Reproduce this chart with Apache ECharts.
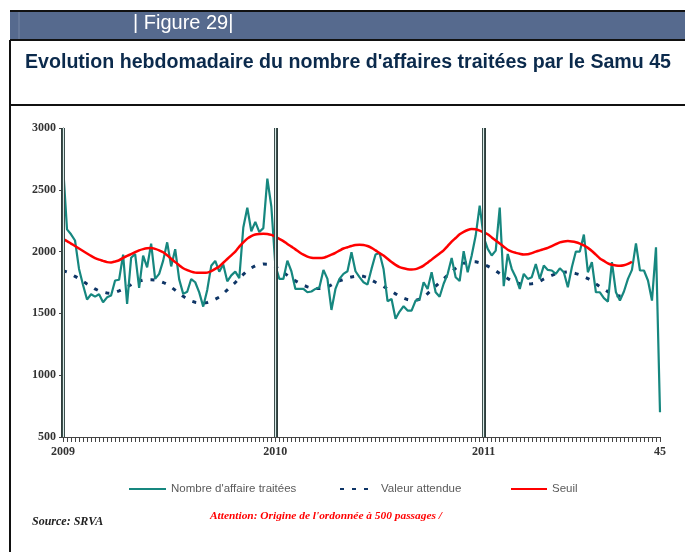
<!DOCTYPE html>
<html>
<head>
<meta charset="utf-8">
<script src="https://cdn.jsdelivr.net/npm/echarts@6/dist/echarts.min.js"></script>
<style>
  html, body { margin: 0; padding: 0; background: #fff; }
  #chart { width: 685px; height: 552px; }
</style>
</head>
<body>
<div id="chart"></div>
<script>
// semaines : 53 en 2009, 52 en 2010, 45 en 2011
const years = ['2009', '2010', '2011']
const weeksInYear = [53, 52, 45]
const lastLabel = '45'

// Nombre d'affaire traitées (hebdo)
const affaires = [
  2700, 2180, 2140, 2090, 1860, 1730, 1612, 1655, 1636, 1655,
  1590, 1630, 1645, 1766, 1772, 1976, 1577, 1950, 1981, 1706,
  1968, 1873, 2065, 1779, 1820, 1927, 2075, 1880, 2020, 1775,
  1658, 1675, 1778, 1752, 1670, 1555, 1690, 1885, 1925, 1838,
  1895, 1760, 1808, 1838, 1785, 2195, 2355, 2165, 2240, 2158,
  2190, 2590, 2365, 1887, 1779, 1779, 1927, 1841, 1698, 1698,
  1698, 1671, 1677, 1698, 1712, 1852, 1779, 1528, 1698, 1779,
  1820, 1841, 1995, 1841, 1793, 1752, 1733, 1860, 1976, 1989,
  1860, 1599, 1617, 1456, 1515, 1558, 1523, 1523, 1604, 1612,
  1752, 1698, 1833, 1671, 1635, 1740, 1818, 1949, 1793, 1762,
  2003, 1833, 1968, 2130, 2372, 2116, 2022, 1968, 2008, 2356,
  1720, 1981, 1860, 1793, 1698, 1820, 1779, 1793, 1900, 1779,
  1887, 1852, 1847, 1820, 1865, 1833, 1712, 1873, 2000, 2000,
  2138, 1833, 1914, 1671, 1671, 1623, 1596, 1914, 1671, 1604,
  1677, 1779, 1852, 2067, 1847, 1847, 1766, 1604, 2035, 700
]

// Valeur attendue
const attendue = [
  1845, 1835, 1818, 1800, 1782, 1760, 1738, 1718, 1698, 1682,
  1672, 1665, 1663, 1670, 1683, 1698, 1715, 1732, 1750, 1762,
  1770, 1773, 1773, 1770, 1762, 1750, 1735, 1712, 1688, 1662,
  1638, 1618, 1600, 1590, 1585, 1584, 1588, 1600, 1615, 1632,
  1660, 1690, 1720, 1750, 1785, 1815, 1845, 1868, 1885, 1895,
  1900, 1898, 1890, 1875, 1858, 1832, 1808, 1785, 1763, 1745,
  1728, 1715, 1706, 1701, 1702, 1707, 1715, 1730, 1748, 1763,
  1775, 1787, 1795, 1800, 1803, 1800, 1790, 1770, 1752, 1735,
  1718, 1698, 1678, 1658, 1640, 1624, 1612, 1606, 1606, 1614,
  1632, 1660, 1690, 1720, 1750, 1780, 1808, 1838, 1865, 1888,
  1905, 1916, 1920, 1918, 1910, 1898, 1882, 1865, 1845, 1822,
  1802, 1782, 1762, 1750, 1740, 1736, 1737, 1740, 1745, 1760,
  1778, 1795, 1808, 1820, 1826, 1832, 1835, 1830, 1822, 1812,
  1798, 1782, 1764, 1740, 1716, 1696, 1676, 1655, 1643, 1640,
  1642
]

// Seuil
const seuil = [
  2100, 2085, 2065, 2045, 2025, 2005, 1985, 1965, 1948, 1935,
  1925, 1915, 1912, 1920, 1930, 1950, 1965, 1980, 1995, 2010,
  2020, 2027, 2030, 2022, 2010, 1995, 1970, 1942, 1915, 1890,
  1865, 1850, 1838, 1830, 1828, 1828, 1830, 1842, 1860, 1880,
  1910, 1940, 1970, 2000, 2040, 2075, 2105, 2125, 2138, 2143,
  2145, 2143, 2135, 2120, 2103, 2085, 2062, 2040, 2018, 1995,
  1975, 1960, 1950, 1948, 1948, 1950, 1962, 1975, 1990, 2008,
  2025, 2035, 2045, 2053, 2055, 2054, 2045, 2030, 2010, 1988,
  1968, 1942, 1915, 1893, 1875, 1865, 1858, 1855, 1858, 1870,
  1887, 1910, 1935, 1960, 1985, 2010, 2045, 2080, 2110, 2140,
  2160, 2175, 2182, 2180, 2170, 2156, 2140, 2115, 2090, 2065,
  2040, 2015, 2000, 1990, 1982, 1977, 1978, 1988, 2000, 2010,
  2020, 2030, 2045, 2060, 2075, 2082, 2085, 2082, 2076, 2065,
  2050, 2030, 2005, 1975, 1945, 1925, 1905, 1893, 1888, 1886,
  1890, 1900, 1918
]

const yTicks = { min: 500, max: 3000, interval: 500 }

// categories et libellés de l'axe
let categories = []
let tickLabels = []
let yearStarts = []
years.forEach((y, k) => {
  yearStarts.push(categories.length)
  for (let w = 1; w <= weeksInYear[k]; w++) {
    categories.push(y + '-S' + w)
    tickLabels.push(w === 1 ? y : '')
  }
})
tickLabels[tickLabels.length - 1] = lastLabel

const teal = '#16877f'
const navy = '#0e3566'
const red = '#ff0000'
const serif = "'Liberation Serif', 'Times New Roman', serif"
const sans = "'Liberation Sans', Arial, sans-serif"

let yearLines = []
yearStarts.forEach(i => {
  yearLines.push({ xAxis: i, lineStyle: { color: '#2d3e3c', width: 4, type: 'solid' } })
})
yearStarts.forEach(i => {
  yearLines.push({ xAxis: i, lineStyle: { color: '#d8ebe8', width: 1.2, type: 'solid' } })
})

const legendText = { color: '#5a5a5a', fontFamily: sans, fontSize: 11.5 }

const chart = echarts.init(document.getElementById('chart'))

const option = {
  animation: false,
  backgroundColor: '#fff',
  grid: { left: 63, right: 25, top: 128, bottom: 115, containLabel: false },
  graphic: [
    // bandeau
    { type: 'rect', shape: { x: 10, y: 11, width: 675, height: 29 }, style: { fill: '#566a8e' } },
    { type: 'line', shape: { x1: 10, y1: 11, x2: 685, y2: 11 }, style: { stroke: '#111', lineWidth: 2 } },
    { type: 'line', shape: { x1: 19, y1: 12, x2: 19, y2: 39 }, style: { stroke: '#7787a5', lineWidth: 1 } },
    { type: 'text', left: 133, top: 13, style: { text: '| Figure 29|', fill: '#fff', font: "20px " + sans } },
    // cadre
    { type: 'line', shape: { x1: 10, y1: 40, x2: 685, y2: 40 }, style: { stroke: '#111', lineWidth: 2 } },
    { type: 'line', shape: { x1: 10, y1: 40, x2: 10, y2: 552 }, style: { stroke: '#111', lineWidth: 2 } },
    { type: 'line', shape: { x1: 10, y1: 105, x2: 685, y2: 105 }, style: { stroke: '#111', lineWidth: 2 } },
    { type: 'text', left: 25, top: 53, style: { text: "Evolution hebdomadaire du nombre d'affaires traitées par le Samu 45", fill: '#0b2a4c', font: "bold 19.6px " + sans } },
    // pied
    { type: 'text', left: 32, top: 516, style: { text: 'Source: SRVA', fill: '#222', font: "italic bold 12px " + serif } },
    { type: 'text', left: 210, top: 511, style: { text: "Attention: Origine de l'ordonnée à 500 passages /", fill: '#ff0000', font: "italic bold 11.4px " + serif } }
  ],
  legend: [
    { data: ["Nombre d'affaire traitées"], left: 123, top: 478, itemWidth: 37, itemHeight: 14,
      itemStyle: { opacity: 0 }, textStyle: legendText },
    { data: ['Valeur attendue'], left: 334, top: 478, itemWidth: 36, itemHeight: 14,
      itemStyle: { opacity: 0 }, textStyle: legendText },
    { data: ['Seuil'], left: 505, top: 478, itemWidth: 36, itemHeight: 14,
      itemStyle: { opacity: 0 }, textStyle: legendText }
  ],
  xAxis: {
    type: 'category',
    data: categories,
    boundaryGap: false,
    axisLine: { lineStyle: { color: '#444', width: 1 } },
    axisTick: { interval: 0, length: 5, lineStyle: { color: '#444' } },
    axisLabel: {
      interval: 0,
      margin: 9,
      color: '#333',
      fontFamily: serif,
      fontWeight: 'bold',
      fontSize: 12,
      formatter: (v, i) => tickLabels[i]
    },
    splitLine: { show: false }
  },
  yAxis: {
    type: 'value',
    min: yTicks.min,
    max: yTicks.max,
    interval: yTicks.interval,
    axisLine: { show: true, lineStyle: { color: '#444' } },
    axisTick: { show: true, length: 4, lineStyle: { color: '#444' } },
    axisLabel: { color: '#333', fontFamily: serif, fontWeight: 'bold', fontSize: 12, margin: 7,
      formatter: v => String(v) },
    splitLine: { show: false }
  },
  series: [
    {
      name: "Nombre d'affaire traitées",
      type: 'line',
      data: affaires,
      symbol: 'none',
      lineStyle: { color: teal, width: 2.2 },
      itemStyle: { color: teal },
      z: 3
    },
    {
      name: 'Valeur attendue',
      type: 'line',
      data: attendue,
      symbol: 'none',
      lineStyle: { color: navy, width: 3, type: [4, 8], cap: 'butt' },
      itemStyle: { color: navy },
      z: 2
    },
    {
      name: 'Seuil',
      type: 'line',
      data: seuil,
      symbol: 'none',
      smooth: 0.3,
      lineStyle: { color: red, width: 2.5 },
      itemStyle: { color: red },
      z: 4,
      markLine: {
        silent: true,
        symbol: 'none',
        label: { show: false },
        data: yearLines
      }
    }
  ]
}

chart.setOption(option)
</script>
</body>
</html>
